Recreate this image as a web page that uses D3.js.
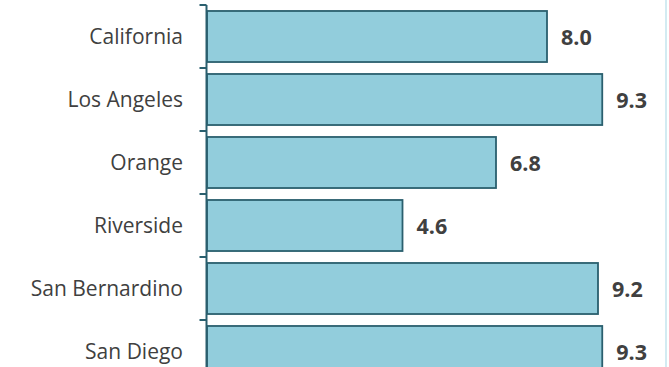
<!DOCTYPE html>
<html>
<head>
<meta charset="utf-8">
<script src="https://cdn.jsdelivr.net/npm/d3@7"></script>
<style>
  html, body { margin: 0; padding: 0; background: #fff; }
  svg { display: block; }
</style>
</head>
<body>
<svg id="chart" width="669" height="367"></svg>
<script>
// Counties and their values
const categories = ["California", "Los Angeles", "Orange", "Riverside", "San Bernardino", "San Diego"];
const values = [8.0, 9.3, 6.8, 4.6, 9.2, 9.3];

const W = 669, H = 367;
const svg = d3.select("#chart");

const fontFamily = "'Open Sans', sans-serif";
const textColor = "#404040";
const barFill = "#92CDDC";
const barStroke = "#2A5F6E";

const y = d3.scaleBand()
  .domain(categories)
  .range([5, 5 + 63 * categories.length])
  .paddingInner(0.19)
  .paddingOuter(0.095);

const x = d3.scaleLinear()
  .domain([0, 10])
  .range([207, 632]);

// thin panel edge on the right
svg.append("line")
  .attr("x1", 666).attr("x2", 666)
  .attr("y1", 0).attr("y2", H)
  .attr("stroke", "#D3EBF2")
  .attr("stroke-width", 2);

// bars
svg.append("g").selectAll("rect")
  .data(categories)
  .join("rect")
  .attr("x", x(0))
  .attr("y", d => y(d))
  .attr("width", (d, i) => x(values[i]) - x(0))
  .attr("height", y.bandwidth())
  .attr("fill", barFill)
  .attr("stroke", barStroke)
  .attr("stroke-width", 1.8);

// category axis with tick marks between bands
const axisX = 206.5;
const step = y.step();
const y0 = y.range()[0];
const axisG = svg.append("g");
axisG.append("line")
  .attr("x1", axisX).attr("x2", axisX)
  .attr("y1", y0).attr("y2", y.range()[1])
  .attr("stroke", barStroke)
  .attr("stroke-width", 2);
axisG.selectAll("line.tick")
  .data(d3.range(categories.length + 1))
  .join("line")
  .attr("class", "tick")
  .attr("x1", axisX - 7).attr("x2", axisX)
  .attr("y1", i => y0 + i * step).attr("y2", i => y0 + i * step)
  .attr("stroke", barStroke)
  .attr("stroke-width", 2);

// category labels
svg.append("g").selectAll("text")
  .data(categories)
  .join("text")
  .attr("x", 183)
  .attr("y", d => y(d) + y.bandwidth() / 2 + 7.8)
  .attr("text-anchor", "end")
  .attr("font-family", fontFamily)
  .attr("font-size", 21)
  .attr("fill", textColor)
  .text(d => d);

// value labels
svg.append("g").selectAll("text")
  .data(categories)
  .join("text")
  .attr("x", (d, i) => x(values[i]) + 14)
  .attr("y", d => y(d) + y.bandwidth() / 2 + 8.5)
  .attr("font-family", fontFamily)
  .attr("font-size", 21.5)
  .attr("font-weight", "bold")
  .attr("fill", textColor)
  .text((d, i) => values[i].toFixed(1));
</script>
</body>
</html>
